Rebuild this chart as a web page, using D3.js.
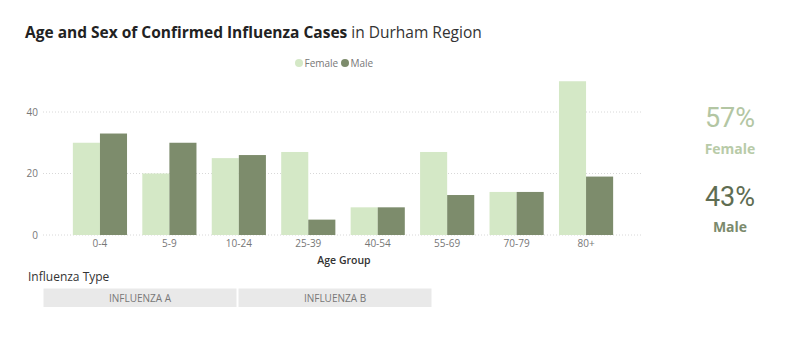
<!DOCTYPE html>
<html><head><meta charset="utf-8">
<script src="https://cdn.jsdelivr.net/npm/d3@7"></script>
<style>body{margin:0;background:#fff}svg{display:block}</style>
</head><body>
<svg id="c" width="800" height="337"></svg>
<script>
const categories = ["0-4","5-9","10-24","25-39","40-54","55-69","70-79","80+"];
const femaleValues = [30,20,25,27,9,27,14,50];
const maleValues = [33,30,26,5,9,13,14,19];
const seriesNames = ["Female","Male"];
const yTicks = [0,20,40];
const kpiValues = ["57%","43%"];
const typeButtons = ["INFLUENZA A","INFLUENZA B"];

const colors = {Female:"#d4e8c6", Male:"#7d8c6c"};
const svg = d3.select("#c");
const font = "'Open Sans', 'Segoe UI', sans-serif";

// Title
const title = svg.append("text").attr("x",25).attr("y",38)
  .attr("font-family",font).attr("font-size",15.5).attr("fill","#222");
title.append("tspan").attr("font-weight","bold").text("Age and Sex of Confirmed Influenza Cases");
title.append("tspan").attr("font-weight","normal").attr("fill","#333").text(" in Durham Region");

// Scales
const y = d3.scaleLinear().domain([0,40]).range([235,112]);
const x0 = d3.scaleBand().domain(categories).range([43,643]).paddingInner(0.22).paddingOuter(0.43);
const x1 = d3.scaleBand().domain(seriesNames).range([0,x0.bandwidth()]);

// Gridlines
svg.append("g").selectAll("line").data(yTicks).join("line")
  .attr("x1",43).attr("x2",643).attr("y1",d=>y(d)).attr("y2",d=>y(d))
  .attr("stroke","#d8d8d8").attr("stroke-width",1).attr("stroke-dasharray","1,2");

// Y axis
const yAxis = svg.append("g").attr("transform","translate(38,0)")
  .call(d3.axisLeft(y).tickValues(yTicks).tickSize(0).tickPadding(0));
yAxis.select(".domain").remove();
yAxis.selectAll("text").attr("font-family",font).attr("font-size",10).attr("fill","#777");

// Bars
const data = categories.map((c,i)=>({cat:c, vals:[{k:"Female",v:femaleValues[i]},{k:"Male",v:maleValues[i]}]}));
const g = svg.append("g").selectAll("g").data(data).join("g")
  .attr("transform",d=>`translate(${x0(d.cat)},0)`);
g.selectAll("rect").data(d=>d.vals).join("rect")
  .attr("x",d=>x1(d.k)).attr("width",x1.bandwidth())
  .attr("y",d=>y(d.v)).attr("height",d=>y(0)-y(d.v))
  .attr("fill",d=>colors[d.k]);

// X axis
const xAxis = svg.append("g").attr("transform","translate(0,240)")
  .call(d3.axisBottom(x0).tickSize(0).tickPadding(0));
xAxis.select(".domain").remove();
xAxis.selectAll("text").attr("font-family",font).attr("font-size",10).attr("fill","#777").attr("dy","0.71em");

svg.append("text").attr("x",344).attr("y",264).attr("text-anchor","middle")
  .attr("font-family",font).attr("font-size",10.5).attr("font-weight",600).attr("fill","#333").text("Age Group");

// Legend
const legend = svg.append("g");
const lx = [299,345];
seriesNames.forEach((s,i)=>{
  legend.append("circle").attr("cx",lx[i]).attr("cy",63).attr("r",4).attr("fill",colors[s]);
  legend.append("text").attr("x",lx[i]+5.5).attr("y",66.5).attr("font-family",font).attr("font-size",10)
    .attr("fill","#777").text(s);
});

// KPIs
const kpiFont = "Roboto, 'DejaVu Sans', sans-serif";
svg.append("text").attr("x",730).attr("y",127).attr("text-anchor","middle").attr("font-family",kpiFont)
  .attr("font-size",27).attr("fill","#b3c6a3").text(kpiValues[0]);
svg.append("text").attr("x",730).attr("y",154).attr("text-anchor","middle").attr("font-family",font)
  .attr("font-size",14).attr("font-weight","bold").attr("fill","#b8cba8").text("Female");
svg.append("text").attr("x",730).attr("y",206).attr("text-anchor","middle").attr("font-family",kpiFont)
  .attr("font-size",27).attr("fill","#5f6d52").text(kpiValues[1]);
svg.append("text").attr("x",730).attr("y",232).attr("text-anchor","middle").attr("font-family",font)
  .attr("font-size",14).attr("font-weight","bold").attr("fill","#7b8a6c").text("Male");

// Influenza type slicer
svg.append("text").attr("x",28).attr("y",281).attr("font-family",font).attr("font-size",12)
  .attr("font-weight",500).attr("fill","#333").text("Influenza Type");
const bx = [43.5,238.5], bw = [193,193];
typeButtons.forEach((t,i)=>{
  svg.append("rect").attr("x",bx[i]).attr("y",288.5).attr("width",bw[i]).attr("height",18.5).attr("fill","#e9e9e9");
  svg.append("text").attr("x",bx[i]+bw[i]/2).attr("y",301.5).attr("text-anchor","middle").attr("font-family",font)
    .attr("font-size",10).attr("fill","#777").text(t);
});
</script>
</body></html>
